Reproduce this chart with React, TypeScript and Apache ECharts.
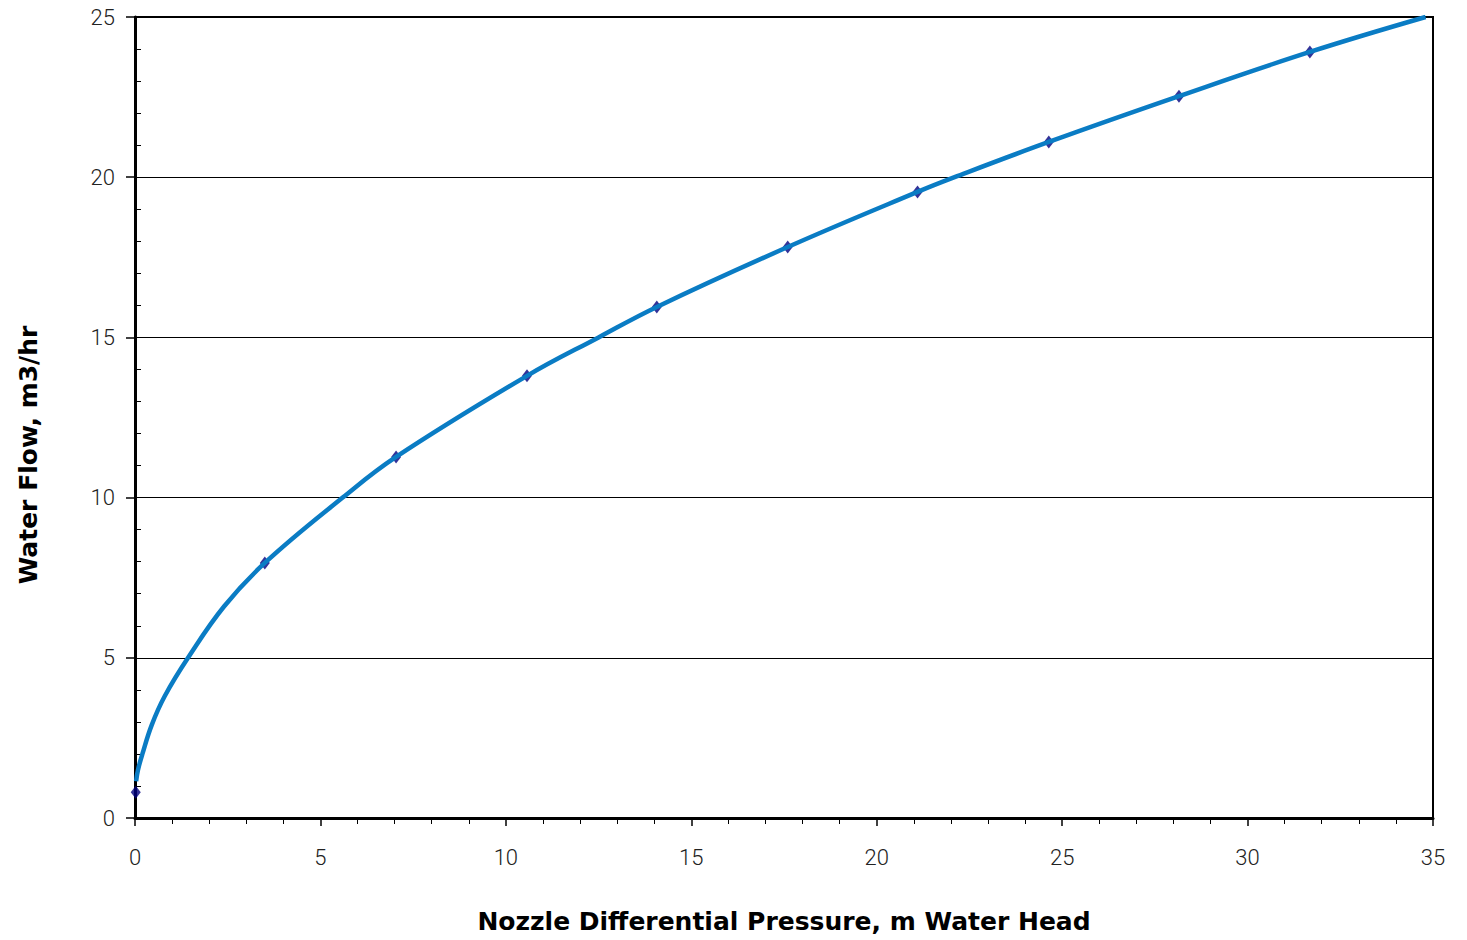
import React, { useEffect, useRef } from "react";
import * as echarts from "echarts";

// Measured data points (diamond markers): [pressure, flow]
const markerPressure = [0.02, 3.5, 7.04, 10.57, 14.07, 17.6, 21.1, 24.64, 28.15, 31.68, 34.75];
const markerFlow = [0.8, 7.96, 11.27, 13.8, 15.95, 17.82, 19.54, 21.1, 22.53, 23.91, 25.05];

// Points
const curvePressure = [0.03, 0.08, 0.2, 0.45, 0.8, 1.43, 2.4, 3.5, 5.6, 7.04, 10.57, 12.5, 14.07, 17.6, 21.1, 22.1, 24.64, 28.15, 31.68, 34.8];
const curveFlow = [1.15, 1.5, 2.0, 2.9, 3.8, 5.0, 6.6, 7.96, 10.0, 11.27, 13.8, 15.0, 15.95, 17.82, 19.54, 20.0, 21.1, 22.53, 23.91, 25.0];

const xTicks = [0, 5, 10, 15, 20, 25, 30, 35];
const yTicks = [0, 5, 10, 15, 20, 25];

const xTitle = "Nozzle Differential Pressure, m Water Head";
const yTitle = "Water Flow, m3/hr";

const tickFont = "Roboto, 'Liberation Sans', sans-serif";
const titleFont = "'DejaVu Sans', 'Liberation Sans', sans-serif";

export default function App() {
  const ref = useRef<HTMLDivElement>(null);
  useEffect(() => {
    if (!ref.current) return;
    const chart = echarts.init(ref.current, null, { renderer: "svg" });
    const markers = markerPressure.map((p, i) => [p, markerFlow[i]]);
    const curve = curvePressure.map((p, i) => [p, curveFlow[i]]);
    chart.setOption({
      animation: false,
      grid: {
        left: 135,
        right: 34,
        top: 17,
        bottom: 122,
        show: true,
        borderColor: "#000",
        borderWidth: 2,
        backgroundColor: "transparent",
      },
      graphic: [
        {
          type: "text",
          x: 28,
          y: 455,
          rotation: Math.PI / 2,
          style: {
            text: yTitle,
            fontFamily: titleFont,
            fontWeight: "bold",
            fontSize: 25,
            fill: "#000",
            align: "center",
            verticalAlign: "middle",
          },
        },
      ],
      xAxis: {
        type: "value",
        min: xTicks[0],
        max: xTicks[xTicks.length - 1],
        interval: 5,
        name: xTitle,
        nameLocation: "middle",
        nameGap: 91,
        nameTextStyle: {
          fontFamily: titleFont,
          fontWeight: "bold",
          fontSize: 25,
          color: "#000",
        },
        axisLine: { show: true, lineStyle: { color: "#000", width: 3 } },
        axisTick: { show: true, length: 8, lineStyle: { color: "#000", width: 1.5 } },
        minorTick: { show: true, splitNumber: 5, length: 6, lineStyle: { color: "#000", width: 1 } },
        splitLine: { show: false },
        axisLabel: {
          margin: 28,
          fontFamily: tickFont,
          fontWeight: 300,
          fontSize: 22,
          color: "#222",
        },
      },
      yAxis: [
        {
          type: "value",
          min: yTicks[0],
          max: yTicks[yTicks.length - 1],
          interval: 5,
          axisLine: { show: true, lineStyle: { color: "#000", width: 3 } },
          axisTick: { show: true, length: 9, lineStyle: { color: "#000", width: 1.5 } },
          splitLine: { show: true, lineStyle: { color: "#000", width: 1 } },
          axisLabel: {
            margin: 20,
            fontFamily: tickFont,
            fontWeight: 300,
            fontSize: 22,
            color: "#222",
          },
        },
        {
          type: "value",
          position: "left",
          min: yTicks[0],
          max: yTicks[yTicks.length - 1],
          interval: 5,
          axisLine: { show: false },
          axisTick: { show: false, inside: true },
          minorTick: { show: true, splitNumber: 5, length: 6, lineStyle: { color: "#000", width: 1 } },
          splitLine: { show: false },
          axisLabel: { show: false },
        },
      ],
      series: [
        {
          type: "scatter",
          data: markers,
          symbol: "diamond",
          symbolSize: [10, 13],
          itemStyle: { color: "#000080" },
          z: 2,
        },
        {
          type: "line",
          data: curve,
          smooth: 0.4,
          showSymbol: false,
          symbol: "none",
          lineStyle: { color: "#0a7cc4", width: 4.5 },
          z: 3,
        },
      ],
    });
    return () => chart.dispose();
  }, []);
  return (
    <div
      ref={ref}
      style={{ position: "absolute", left: 0, top: 0, width: 1467, height: 940 }}
    />
  );
}
